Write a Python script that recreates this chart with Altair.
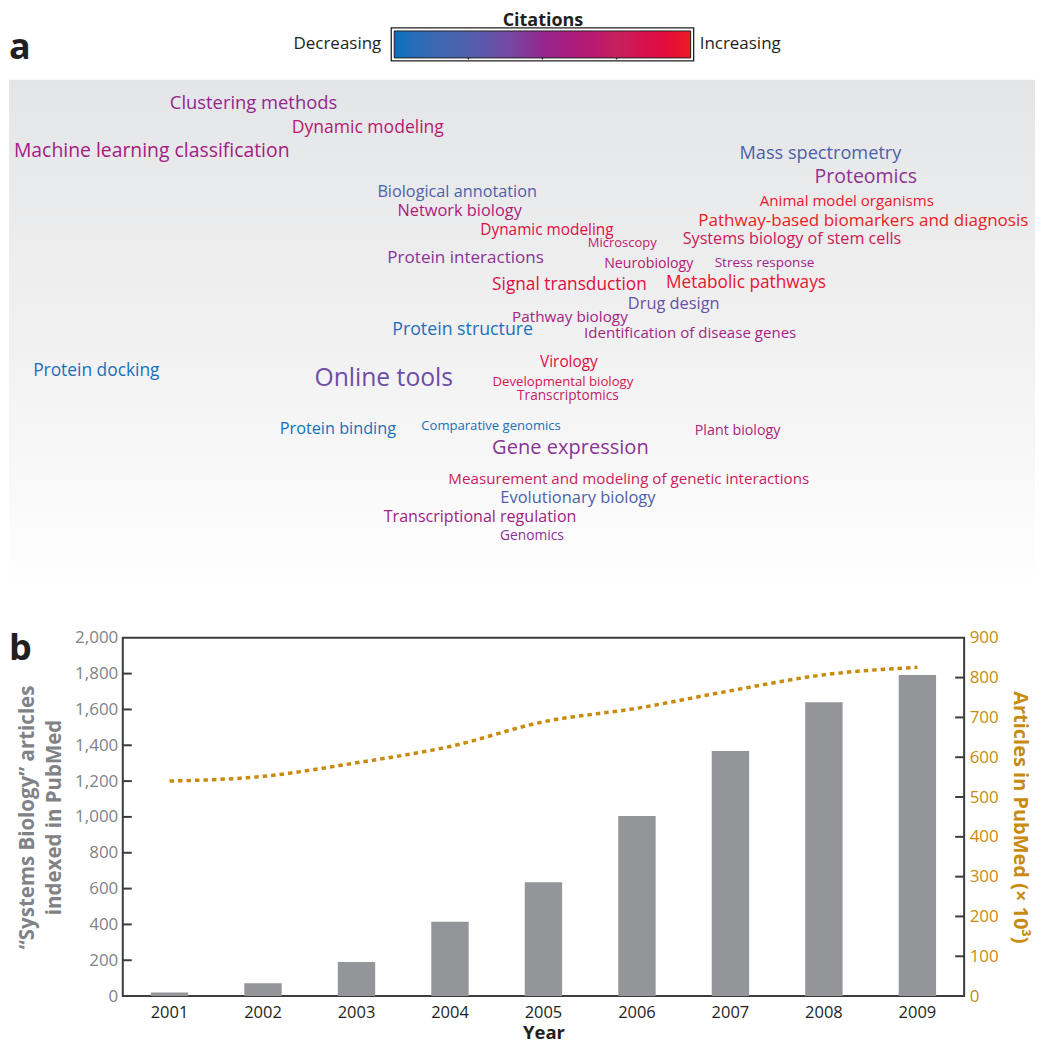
import altair as alt
import pandas as pd

# ---------------- Panel a : word cloud ----------------
terms = [
    "Clustering methods", "Dynamic modeling", "Machine learning classification",
    "Mass spectrometry", "Proteomics", "Biological annotation", "Network biology",
    "Dynamic modeling", "Animal model organisms", "Pathway-based biomarkers and diagnosis",
    "Microscopy", "Systems biology of stem cells", "Protein interactions", "Neurobiology",
    "Stress response", "Signal transduction", "Metabolic pathways", "Drug design",
    "Pathway biology", "Protein structure", "Identification of disease genes",
    "Protein docking", "Online tools", "Virology", "Developmental biology",
    "Transcriptomics", "Protein binding", "Comparative genomics", "Gene expression",
    "Plant biology", "Measurement and modeling of genetic interactions",
    "Evolutionary biology", "Transcriptional regulation", "Genomics",
]
term_x = [253, 367.5, 151, 821, 866.5, 457, 459.5, 547, 847.5, 864,
          622.5, 792.5, 465.5, 649, 765, 569.5, 746.5, 674, 570, 462.5,
          690.5, 95.5, 383.5, 569, 563, 568, 337.5, 491, 570.5, 738,
          629, 578, 480, 532]
term_y = [101, 126, 149, 152, 175, 190, 209, 228, 199, 219,
          241, 237, 256, 262, 261, 284, 282, 303, 316, 329,
          332, 370, 378, 361, 381, 395, 428, 425, 447, 430,
          478, 497, 516, 535]
term_weight = [18.4, 17.6, 19.4, 18.2, 19.5, 16.3, 16.4, 15.4, 15.1, 17.1,
               13.0, 16.2, 17.1, 14.2, 13.5, 17.3, 17.3, 16.4, 15.3, 17.8,
               15.1, 17.4, 24.7, 15.4, 13.2, 13.7, 16.3, 13.1, 20.1, 14.3,
               15.2, 16.5, 16.1, 13.8]
term_citations = [0.50, 0.66, 0.56, 0.25, 0.47, 0.25, 0.62, 0.88, 0.97, 1.00,
                  0.70, 0.80, 0.47, 0.66, 0.54, 0.90, 0.97, 0.34, 0.57, 0.04,
                  0.57, 0.03, 0.36, 0.90, 0.82, 0.72, 0.02, 0.03, 0.47, 0.60,
                  0.78, 0.25, 0.56, 0.48]

citation_stops = [0, 0.25, 0.5, 0.75, 1]
citation_colors = ["#0072BC", "#4F5FAA", "#92278F", "#C4215F", "#ED1C24"]
legend_ends = ["Decreasing", "Increasing"]

# ---------------- Panel b : bars + line ----------------
years = ["2001", "2002", "2003", "2004", "2005", "2006", "2007", "2008", "2009"]
sysbio_articles = [20, 72, 190, 415, 635, 1005, 1368, 1640, 1792]
pubmed_articles_k = [540, 552, 586, 627, 689, 723, 767, 807, 826]
left_tick_values = [0, 200, 400, 600, 800, 1000, 1200, 1400, 1600, 1800, 2000]
right_tick_values = [0, 100, 200, 300, 400, 500, 600, 700, 800, 900]
left_inner_ticks = [200, 400, 600, 800, 1000, 1200, 1400, 1600, 1800]
right_inner_ticks = [100, 200, 300, 400, 500, 600, 700, 800]

FONT = "Open Sans"
DARK = "#231F20"
GRAY_TEXT = "#808285"
ORANGE = "#C98A10"
BAR = "#939598"
FRAME = "#3C3C3C"

A_W, A_H = 914, 629
B_W, B_H = 843, 359
X0, Y0 = 122, 8  # page position of the plot origin

# ---- panel a ----
words = pd.DataFrame({"term": terms, "x": term_x, "y": term_y,
                      "weight": term_weight, "citations": term_citations})
one = pd.DataFrame({"k": [0]})

xs = alt.Scale(domain=[X0, X0 + A_W], zero=False, nice=False)
ys = alt.Scale(domain=[Y0, Y0 + A_H], zero=False, nice=False, reverse=True)

bg = alt.Chart(one).mark_rect(
    fill=alt.LinearGradient(
        gradient="linear",
        stops=[alt.GradientStop(color="#E4E5E6", offset=0),
               alt.GradientStop(color="#F2F2F3", offset=0.55),
               alt.GradientStop(color="#FFFFFF", offset=1)],
        x1=0, x2=0, y1=0, y2=1)
).encode(x=alt.value(-114), x2=alt.value(A_W), y=alt.value(70), y2=alt.value(584))

frame = alt.Chart(one).mark_rect(fill="white", stroke=DARK, strokeWidth=1.3).encode(
    x=alt.value(269), x2=alt.value(572), y=alt.value(18), y2=alt.value(51))

qtick_layers = []
for xv in [346.25, 420.5, 494.75]:
    qtick_layers.append(alt.Chart(one).mark_rule(color="white", strokeWidth=4).encode(
        x=alt.value(xv), y=alt.value(39), y2=alt.value(48)))
    qtick_layers.append(alt.Chart(one).mark_rule(color=DARK, strokeWidth=1.4).encode(
        x=alt.value(xv), y=alt.value(40), y2=alt.value(49.5)))

cloud = alt.Chart(words).mark_text(font=FONT, align="center", baseline="middle").encode(
    x=alt.X("x:Q", scale=xs, axis=None),
    y=alt.Y("y:Q", scale=ys, axis=None),
    text="term:N",
    size=alt.Size("weight:Q", scale=alt.Scale(domain=[0, 30], range=[0, 30]), legend=None),
    color=alt.Color(
        "citations:Q",
        scale=alt.Scale(domain=citation_stops, range=citation_colors),
        legend=alt.Legend(
            orient="none", legendX=272, legendY=2, direction="horizontal",
            title="Citations", titleFont=FONT, titleFontSize=18, titleFontWeight="bold",
            titleColor=DARK, titleAnchor="middle", titlePadding=1,
            gradientLength=297, gradientThickness=27, labelOpacity=0, labelFontSize=1,
            gradientStrokeColor=DARK, gradientStrokeWidth=1, padding=0,
        ),
    ),
)

dec = alt.Chart(pd.DataFrame({"t": [legend_ends[0]]})).mark_text(
    font=FONT, fontSize=17, color=DARK, align="right", baseline="middle"
).encode(text="t:N", x=alt.value(259), y=alt.value(34))
inc = alt.Chart(pd.DataFrame({"t": [legend_ends[1]]})).mark_text(
    font=FONT, fontSize=17, color=DARK, align="left", baseline="middle"
).encode(text="t:N", x=alt.value(578), y=alt.value(34))
alabel = alt.Chart(pd.DataFrame({"t": ["a"]})).mark_text(
    font=FONT, fontSize=36, fontWeight="bold", color=DARK, align="left", baseline="alphabetic"
).encode(text="t:N", x=alt.value(-114), y=alt.value(49))

panel_a = alt.layer(bg, frame, *qtick_layers, cloud, dec, inc, alabel).properties(
    width=A_W, height=A_H, view=alt.ViewBackground(stroke="transparent"))

# ---- panel b ----
bars_df = pd.DataFrame({"year": years, "articles": sysbio_articles})
line_df = pd.DataFrame({"year": years, "pubmed": pubmed_articles_k})

left_scale = alt.Scale(domain=[0, 2000], nice=False)
right_scale = alt.Scale(domain=[0, 900], nice=False)

left_axis = alt.Axis(
    values=left_tick_values, format=",.0f", labelColor=GRAY_TEXT,
    labelFont=FONT, labelFontSize=17, labelPadding=5, labelFlush=False,
    ticks=False, domain=False, grid=False,
    title=["\u201cSystems Biology\u201d articles", "indexed in PubMed"],
    titleColor=GRAY_TEXT, titleFont=FONT, titleFontSize=20.5,
    titleFontWeight="bold", titleAngle=270, titleX=-95, titleY=B_H / 2,
    titleAlign="center", titleBaseline="middle", titleLineHeight=27)
right_axis = alt.Axis(
    orient="right", values=right_tick_values, format=".0f", labelColor=ORANGE,
    labelFont=FONT, labelFontSize=17, labelPadding=5, labelFlush=False,
    ticks=False, domain=False, grid=False,
    title="Articles in PubMed (\u00d7 10\u00b3)", titleColor=ORANGE,
    titleFont=FONT, titleFontSize=20, titleFontWeight="bold",
    titleAngle=90, titleX=55, titleY=B_H / 2,
    titleAlign="center", titleBaseline="middle")
x_axis = alt.Axis(labelAngle=0, labelColor=DARK, labelFont=FONT, labelFontSize=16.5,
                  ticks=False, domain=False, labelPadding=8,
                  title="Year", titleFont=FONT, titleFontSize=18.5,
                  titleFontWeight="bold", titleColor=DARK, titlePadding=3)
x_scale = alt.Scale(paddingInner=0.6, paddingOuter=0.3)

bars = alt.Chart(bars_df).mark_bar(color=BAR).encode(
    x=alt.X("year:O", scale=x_scale, axis=x_axis),
    y=alt.Y("articles:Q", scale=left_scale, axis=left_axis),
)
lticks = alt.Chart(pd.DataFrame({"articles": left_inner_ticks})).mark_rule(
    color=FRAME, strokeWidth=2).encode(
    y=alt.Y("articles:Q", scale=left_scale, axis=left_axis), x=alt.value(0), x2=alt.value(9))
blabel = alt.Chart(pd.DataFrame({"t": ["b"]})).mark_text(
    font=FONT, fontSize=36, fontWeight="bold", color=DARK, align="left", baseline="alphabetic"
).encode(text="t:N", x=alt.value(-114), y=alt.value(22))

line = alt.Chart(line_df).mark_line(
    color=ORANGE, strokeWidth=3.5, strokeDash=[4.5, 4], interpolate="monotone"
).encode(
    x=alt.X("year:O", scale=x_scale, axis=x_axis),
    y=alt.Y("pubmed:Q", scale=right_scale, axis=right_axis),
)
rticks = alt.Chart(pd.DataFrame({"pubmed": right_inner_ticks})).mark_rule(
    color=FRAME, strokeWidth=2).encode(
    y=alt.Y("pubmed:Q", scale=right_scale, axis=right_axis),
    x=alt.value(B_W - 9), x2=alt.value(B_W))

left_layer = alt.layer(bars, lticks, blabel)
right_layer = alt.layer(line, rticks)
panel_b = alt.layer(left_layer, right_layer).resolve_scale(y="independent").properties(
    width=B_W, height=B_H, view=alt.ViewBackground(stroke=FRAME, strokeWidth=2))

chart = alt.vconcat(panel_a, panel_b, spacing=0).properties(
    bounds="flush", padding=0
).configure(font=FONT)

chart.save("out.html", embed_options={"renderer": "svg", "actions": False})
